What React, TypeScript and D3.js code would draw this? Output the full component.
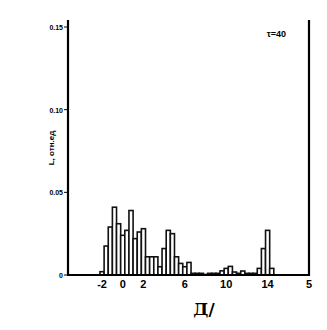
import React, { useEffect, useRef } from 'react';
import * as d3 from 'd3';

// histogram bins: left edge (units of x) and relative intensity
const binStarts = [
  -2.2, -1.8, -1.4, -1.0, -0.6, -0.2, 0.2, 0.6, 1.0, 1.4,
  1.8, 2.2, 2.6, 3.0, 3.4, 3.8, 4.2, 4.6, 5.0, 5.4,
  5.8, 6.2, 6.6, 7.0, 7.4, 7.8, 8.2, 8.6, 9.0, 9.4,
  9.8, 10.2, 10.6, 11.0, 11.4, 11.8, 12.2, 12.6, 13.0, 13.4,
  13.8, 14.2,
];
const binValues = [
  0.002, 0.0175, 0.029, 0.041, 0.031, 0.024, 0.027, 0.039, 0.022, 0.026,
  0.028, 0.011, 0.011, 0.011, 0.005, 0.016, 0.027, 0.025, 0.011, 0.007,
  0.005, 0.0076, 0.001, 0.001, 0.001, 0.0003, 0.001, 0.001, 0.001, 0.0025,
  0.004, 0.0052, 0.0018, 0.001, 0.0024, 0.001, 0.001, 0.001, 0.004, 0.016,
  0.027, 0.004,
];
const binWidth = 0.4;

const xTicks = [-2, 0, 2, 6, 10, 14, 18];
const xTickLabels = ['-2', '0', '2', '6', '10', '14', '5'];
const yTicks = [0, 0.05, 0.1, 0.15];
const yTickLabels = ['0', '0.05', '0.10', '0.15'];

const App = () => {
  const ref = useRef<SVGSVGElement>(null);

  useEffect(() => {
    const svg = d3.select(ref.current);
    svg.selectAll('*').remove();

    const left = 68, right = 309, top = 20, bottom = 275;
    const x = d3.scaleLinear().domain([-5.29, 18]).range([left, right]);
    const y = d3.scaleLinear().domain([0, 0.15]).range([bottom, 27]);
    const font = "'Liberation Sans', Arial, sans-serif";

    // bars
    svg.append('g')
      .selectAll('rect')
      .data(binStarts.map((s, i) => ({ s, v: binValues[i] })))
      .join('rect')
      .attr('x', d => x(d.s))
      .attr('y', d => y(d.v))
      .attr('width', d => x(d.s + binWidth) - x(d.s))
      .attr('height', d => bottom - y(d.v))
      .attr('fill', 'white')
      .attr('stroke', '#111')
      .attr('stroke-width', 1.6);

    // frame: left, bottom, right
    svg.append('path')
      .attr('d', `M${left},${top}V${bottom}H${right}V${top}`)
      .attr('fill', 'none')
      .attr('stroke', '#000')
      .attr('stroke-width', 2.2);

    // y ticks
    const yg = svg.append('g');
    yTicks.forEach((t, i) => {
      yg.append('line')
        .attr('x1', left - 4).attr('x2', left)
        .attr('y1', y(t)).attr('y2', y(t))
        .attr('stroke', '#000').attr('stroke-width', 1);
      yg.append('text')
        .attr('x', left - 5).attr('y', y(t) + 3)
        .attr('text-anchor', 'end')
        .style('font-family', font).style('font-weight', 'bold')
        .style('font-size', '7px')
        .text(yTickLabels[i]);
    });

    // x ticks
    const xg = svg.append('g');
    xTicks.forEach((t, i) => {
      xg.append('text')
        .attr('x', x(t)).attr('y', 288)
        .attr('text-anchor', 'middle')
        .style('font-family', font).style('font-weight', 'bold')
        .style('font-size', '11px')
        .text(xTickLabels[i]);
    });

    // axis titles
    svg.append('text')
      .attr('transform', 'rotate(-90)')
      .attr('x', -148).attr('y', 54)
      .attr('text-anchor', 'middle')
      .style('font-family', font).style('font-weight', 'bold')
      .style('font-size', '8px')
      .text('L, отн.ед');

    svg.append('text')
      .attr('x', 204).attr('y', 315)
      .attr('text-anchor', 'middle')
      .style('font-family', "'DejaVu Serif', serif").style('font-weight', 'bold')
      .style('font-size', '17px')
      .text('Д/');

    svg.append('text')
      .attr('x', 286).attr('y', 37)
      .attr('text-anchor', 'end')
      .style('font-family', font).style('font-weight', 'bold')
      .style('font-size', '9px')
      .text('τ=40');
  }, []);

  return (
    <svg
      ref={ref}
      width={327}
      height={330}
      style={{ position: 'absolute', left: 0, top: 0, background: 'white' }}
    />
  );
};

export default App;
